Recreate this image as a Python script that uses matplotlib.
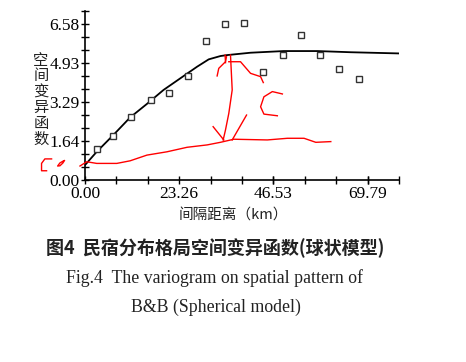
import matplotlib
matplotlib.use("Agg")
import matplotlib.pyplot as plt
from matplotlib.ticker import FixedLocator, MultipleLocator

# experimental semivariance (lag km, value)
lag_km = [3.05, 6.94, 11.40, 16.18, 20.81, 25.45, 29.91, 34.61,
          39.32, 43.93, 48.81, 53.35, 57.98, 62.61, 67.64]
semivar = [1.31, 1.87, 2.67, 3.38, 3.68, 4.39, 5.88, 6.60,
           6.62, 4.54, 5.26, 6.13, 5.27, 4.67, 4.26]

# fitted spherical model
model_x = [0, 2.89, 7.01, 11.15, 15.29, 19.40, 23.54, 27.68, 30.55, 33.45,
           35.1, 40.88, 49.1, 57.4, 65.66, 77.54]
model_y = [0.63, 1.19, 1.90, 2.64, 3.21, 3.80, 4.29, 4.78, 5.09, 5.23,
           5.27, 5.37, 5.44, 5.44, 5.39, 5.34]

x_ticks = [0.00, 23.26, 46.53, 69.79]
x_labels = ["0.00", "23.26", "46.53", "69.79"]
y_ticks = [0.00, 1.645, 3.29, 4.935, 6.58]
y_labels = ["0.00", "1.64", "3.29", "4.93", "6.58"]

# red hand drawn marks on the figure
red_base = [(-1.24, 0.59), (0.42, 0.77), (2.90, 0.70), (7.85, 0.70), (11.15, 0.81),
            (15.29, 1.05), (20.24, 1.19), (25.20, 1.38), (30.15, 1.48), (33.45, 1.59),
            (36.74, 1.72), (45.02, 1.69), (49.98, 1.76), (54.09, 1.76), (56.99, 1.59),
            (60.70, 1.62)]
red_vert = [(35.93, 5.27), (36.35, 3.80), (35.51, 2.81), (34.69, 2.11), (34.12, 1.69)]
red_vert2 = [(34.6, 5.27), (34.7, 4.95)]
red_head_bl = [(31.64, 2.25), (34.27, 1.69)]
red_head_br = [(39.89, 2.74), (36.35, 1.69)]
red_head_tl = [(32.63, 4.39), (33.03, 4.71), (34.69, 4.99), (34.94, 5.20)]
red_head_tr = [(35.51, 4.99), (38.40, 4.99), (40.88, 4.50), (43.36, 4.36), (44.03, 4.11)]
red_c = [(48.74, 3.63), (46.26, 3.73), (44.18, 3.51), (43.36, 3.09), (44.18, 2.78), (47.50, 2.71)]
red_c0_c = [(-8.25, 0.89), (-9.91, 0.89), (-10.73, 0.70), (-10.73, 0.39), (-9.49, 0.39)]
red_c0_o = [(-5.08, 0.82), (-5.45, 0.72), (-6.19, 0.60), (-6.76, 0.59), (-6.19, 0.72), (-5.38, 0.80)]

serif = "Liberation Serif"
cjk = ["Noto Sans CJK SC", "DejaVu Sans"]

fig = plt.figure(figsize=(4.66, 3.62), dpi=100)
ax = fig.add_axes([85 / 466, 1 - 180 / 362, (399 - 85) / 466, (180 - 11) / 362])

ax.plot(model_x, model_y, color="black", lw=1.3, zorder=3)
ax.plot(lag_km, semivar, ls="none", marker="s", ms=4.5, mfc="white",
        mec="#333333", mew=1.0, zorder=4)

for path in [red_base, red_vert, red_vert2, red_head_bl, red_head_br, red_head_tl,
             red_head_tr, red_c, red_c0_c, red_c0_o]:
    xs = [p[0] for p in path]
    ys = [p[1] for p in path]
    ax.plot(xs, ys, color="red", lw=1.0, clip_on=False, zorder=5)

ax.set_xlim(0, 77.54)
ax.set_ylim(0, 7.13)
for s in ["top", "right"]:
    ax.spines[s].set_visible(False)
for s in ["left", "bottom"]:
    ax.spines[s].set_linewidth(1.2)

ax.xaxis.set_major_locator(FixedLocator(x_ticks))
ax.set_xticklabels(x_labels, fontfamily=serif, fontsize=12.5)
ax.xaxis.set_minor_locator(MultipleLocator(23.26 / 3))
ax.yaxis.set_major_locator(FixedLocator(y_ticks))
ax.set_yticklabels(y_labels, fontfamily=serif, fontsize=12.5)
ax.yaxis.set_minor_locator(MultipleLocator(6.58 / 12))
ax.tick_params(which="both", direction="inout", length=6, width=1.0)
ax.tick_params(axis="x", which="major", pad=1)
ax.tick_params(axis="y", which="major", pad=1)

# vertical y label, one character per row
for i, ch in enumerate("空间变异函数"):
    fig.text(41 / 466, 1 - (60 + i * 15.8) / 362, ch, family=cjk,
             fontsize=11, ha="center", va="center", color="#222222")
fig.text(233 / 466, 1 - 216 / 362, "间隔距离（km）", family=cjk, fontsize=10.5,
         ha="center", va="center", color="#222222")

fig.text(215 / 466, 1 - 248 / 362, "图4  民宿分布格局空间变异函数(球状模型)",
         family=cjk, fontsize=13, fontweight="bold", ha="center", va="center",
         color="#222222")
fig.text(214 / 466, 1 - 278 / 362, "Fig.4  The variogram on spatial pattern of",
         family=serif, fontsize=12.8, ha="center", va="center", color="#222222")
fig.text(216 / 466, 1 - 307 / 362, "B&B (Spherical model)",
         family=serif, fontsize=12.8, ha="center", va="center", color="#222222")

fig.savefig("out.png", dpi=100)
